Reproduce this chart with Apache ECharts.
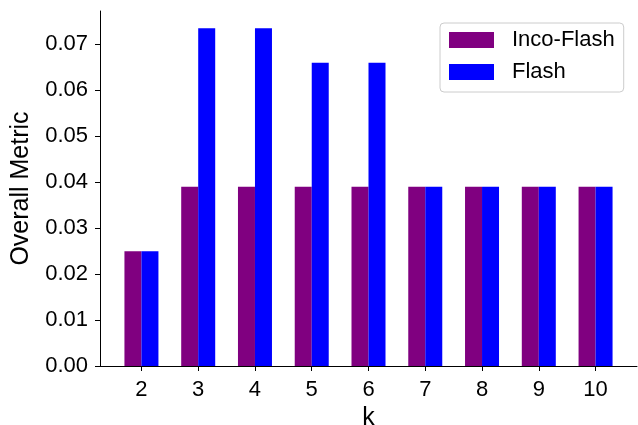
<!DOCTYPE html>
<html>
<head>
<meta charset="utf-8">
<script src="https://cdn.jsdelivr.net/npm/echarts@6/dist/echarts.min.js"></script>
<style>html,body{margin:0;padding:0;background:#fff}#c{width:638px;height:425px}</style>
</head>
<body>
<div id="c"></div>
<script>
var categories = [2, 3, 4, 5, 6, 7, 8, 9, 10];
var incoFlash = [0.025, 0.039, 0.039, 0.039, 0.039, 0.039, 0.039, 0.039, 0.039];
var flash = [0.025, 0.0735, 0.0735, 0.066, 0.066, 0.039, 0.039, 0.039, 0.039];
var yTicks = [0, 0.01, 0.02, 0.03, 0.04, 0.05, 0.06, 0.07];

var font = 'Liberation Sans, Arial, sans-serif';
var chart = echarts.init(document.getElementById('c'), null, {renderer: 'canvas'});
chart.setOption({
  animation: false,
  backgroundColor: '#fff',
  grid: {left: 100, right: 1, top: 11, bottom: 59, containLabel: false, outerBoundsMode: 'none'},
  legend: {
    orient: 'vertical', left: 440, top: 23,
    padding: [6, 9, 9, 9],
    borderColor: '#cccccc', borderWidth: 1, borderRadius: 4,
    itemWidth: 45, itemHeight: 16, itemGap: 10,
    icon: 'rect',
    textStyle: {fontFamily: font, fontSize: 22, lineHeight: 22, color: '#000', padding: [0, 0, 0, 13]},
    data: ['Inco-Flash', 'Flash']
  },
  xAxis: {
    type: 'value', min: 1.27, max: 10.73,
    name: 'k', nameLocation: 'middle', nameGap: 32,
    nameTextStyle: {fontFamily: font, fontSize: 25, color: '#000'},
    splitLine: {show: false},
    axisLine: {show: true, lineStyle: {color: '#000', width: 1}},
    axisTick: {show: true, length: 5, lineStyle: {color: '#000'}, customValues: categories},
    axisLabel: {fontFamily: font, fontSize: 22, color: '#000', margin: 13, customValues: categories}
  },
  yAxis: {
    type: 'value', min: 0, max: 0.07726,
    name: 'Overall Metric', nameLocation: 'middle', nameGap: 66,
    nameTextStyle: {fontFamily: font, fontSize: 25, color: '#000'},
    splitLine: {show: false},
    axisLine: {show: true, lineStyle: {color: '#000', width: 1}},
    axisTick: {show: true, length: 5, lineStyle: {color: '#000'}, customValues: yTicks},
    axisLabel: {fontFamily: font, fontSize: 22, color: '#000', margin: 12, customValues: yTicks,
      formatter: function (v) { return v.toFixed(2); }}
  },
  series: [
    {name: 'Inco-Flash', type: 'bar', barWidth: 17, barGap: '0%',
     itemStyle: {color: '#800080'},
     data: categories.map(function (k, i) { return [k, incoFlash[i]]; })},
    {name: 'Flash', type: 'bar', barWidth: 17, barGap: '0%',
     itemStyle: {color: '#0000ff'},
     data: categories.map(function (k, i) { return [k, flash[i]]; })}
  ]
});
</script>
</body>
</html>
